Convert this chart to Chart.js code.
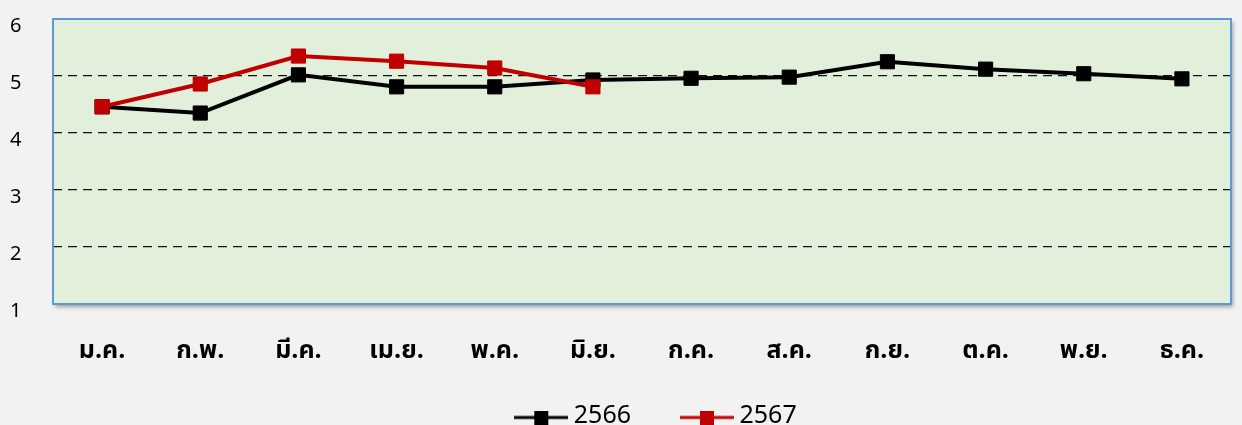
<!DOCTYPE html>
<html lang="th">
<head>
<meta charset="UTF-8">
<title>2566 / 2567</title>
<script src="https://cdn.jsdelivr.net/npm/chart.js"></script>
<style>
  html, body { margin: 0; padding: 0; background: #f2f2f2; }
  #wrap { width: 1242px; height: 425px; }
</style>
</head>
<body>
<div id="wrap"><canvas id="chart"></canvas></div>
<script>
const months = ['ม.ค.', 'ก.พ.', 'มี.ค.', 'เม.ย.', 'พ.ค.', 'มิ.ย.', 'ก.ค.', 'ส.ค.', 'ก.ย.', 'ต.ค.', 'พ.ย.', 'ธ.ค.'];
const y2566 = [4.46, 4.35, 5.02, 4.81, 4.81, 4.93, 4.96, 4.98, 5.25, 5.12, 5.04, 4.95];
const y2567 = [4.46, 4.86, 5.35, 5.26, 5.14, 4.81];
const yMin = 1;
const yMax = 6;

const FONT = 'Tahoma, "Noto Sans Thai", "Noto Sans", "DejaVu Sans", sans-serif';

// legend marker: short line with a square in the middle
function legendMarker(color) {
  const c = document.createElement('canvas');
  c.width = 54; c.height = 14;
  const g = c.getContext('2d');
  g.strokeStyle = color;
  g.lineWidth = 3;
  g.beginPath(); g.moveTo(0, 7); g.lineTo(54, 7); g.stroke();
  g.fillStyle = color;
  g.fillRect(20, 0, 14, 14);
  return c;
}

// plot area fill, border and shadow; nudge the legend into place
const plotArea = {
  id: 'plotArea',
  afterLayout(chart) {
    const lg = chart.legend;
    lg.left += 36; lg.right += 36;
    lg.top -= 19; lg.height += 19;
  },
  beforeDraw(chart) {
    const {ctx, chartArea: a} = chart;
    ctx.save();
    ctx.fillStyle = '#f2f2f2';
    ctx.fillRect(0, 0, chart.width, chart.height);
    ctx.shadowColor = 'rgba(0,0,0,0.35)';
    ctx.shadowBlur = 4;
    ctx.shadowOffsetX = 2;
    ctx.shadowOffsetY = 3;
    ctx.fillStyle = '#e2efda';
    ctx.fillRect(a.left, a.top, a.right - a.left, a.bottom - a.top);
    ctx.restore();
  },
  beforeDatasetsDraw(chart) {
    const {ctx, chartArea: a} = chart;
    ctx.save();
    ctx.strokeStyle = '#5b9bd5';
    ctx.lineWidth = 2;
    ctx.strokeRect(a.left, a.top, a.right - a.left, a.bottom - a.top);
    ctx.restore();
  }
};

new Chart(document.getElementById('chart'), {
  type: 'line',
  data: {
    labels: months,
    datasets: [
      {
        label: '2566',
        data: y2566,
        order: 1,
        borderColor: '#000000',
        backgroundColor: '#000000',
        borderWidth: 4,
        pointStyle: 'rect',
        pointRadius: 10,
        pointBorderWidth: 1,
        tension: 0
      },
      {
        label: '2567',
        data: y2567,
        order: 0,
        borderColor: '#c00000',
        backgroundColor: '#c00000',
        borderWidth: 4,
        pointStyle: 'rect',
        pointRadius: 10,
        pointBorderWidth: 1,
        tension: 0
      }
    ]
  },
  options: {
    responsive: true,
    maintainAspectRatio: false,
    animation: false,
    layout: { padding: { top: 19, left: 10, right: 6, bottom: 0 } },
    scales: {
      x: {
        offset: true,
        grid: { display: true, color: 'rgba(0,0,0,0)', drawTicks: true, tickLength: 34, tickColor: 'rgba(0,0,0,0)' },
        border: { display: false },
        ticks: { color: '#000', padding: 0, maxRotation: 0, font: { family: FONT, size: 25, weight: 'bold' } }
      },
      y: {
        min: yMin,
        max: yMax,
        afterFit: s => { s.width = 43; },
        grid: {
          drawTicks: false,
          color: ctx => (ctx.tick.value === yMin || ctx.tick.value === yMax) ? 'rgba(0,0,0,0)' : '#111111',
          lineWidth: 1.3
        },
        border: { display: false, dash: [9, 6] },
        ticks: { stepSize: 1, color: '#000', padding: 0, crossAlign: 'far', labelOffset: 9, font: { family: FONT, size: 20 } }
      }
    },
    plugins: {
      legend: {
        position: 'bottom',
        maxHeight: 57,
        labels: {
          usePointStyle: true,
          pointStyleWidth: 40,
          padding: 56,
          color: '#000',
          font: { family: FONT, size: 25 },
          generateLabels: chart => chart.data.datasets.map((ds, i) => ({
            text: ds.label,
            pointStyle: legendMarker(ds.borderColor),
            fillStyle: ds.borderColor,
            strokeStyle: ds.borderColor,
            lineWidth: 0,
            datasetIndex: i,
            fontColor: '#000'
          }))
        }
      },
      tooltip: { enabled: false }
    }
  },
  plugins: [plotArea]
});
</script>
</body>
</html>
